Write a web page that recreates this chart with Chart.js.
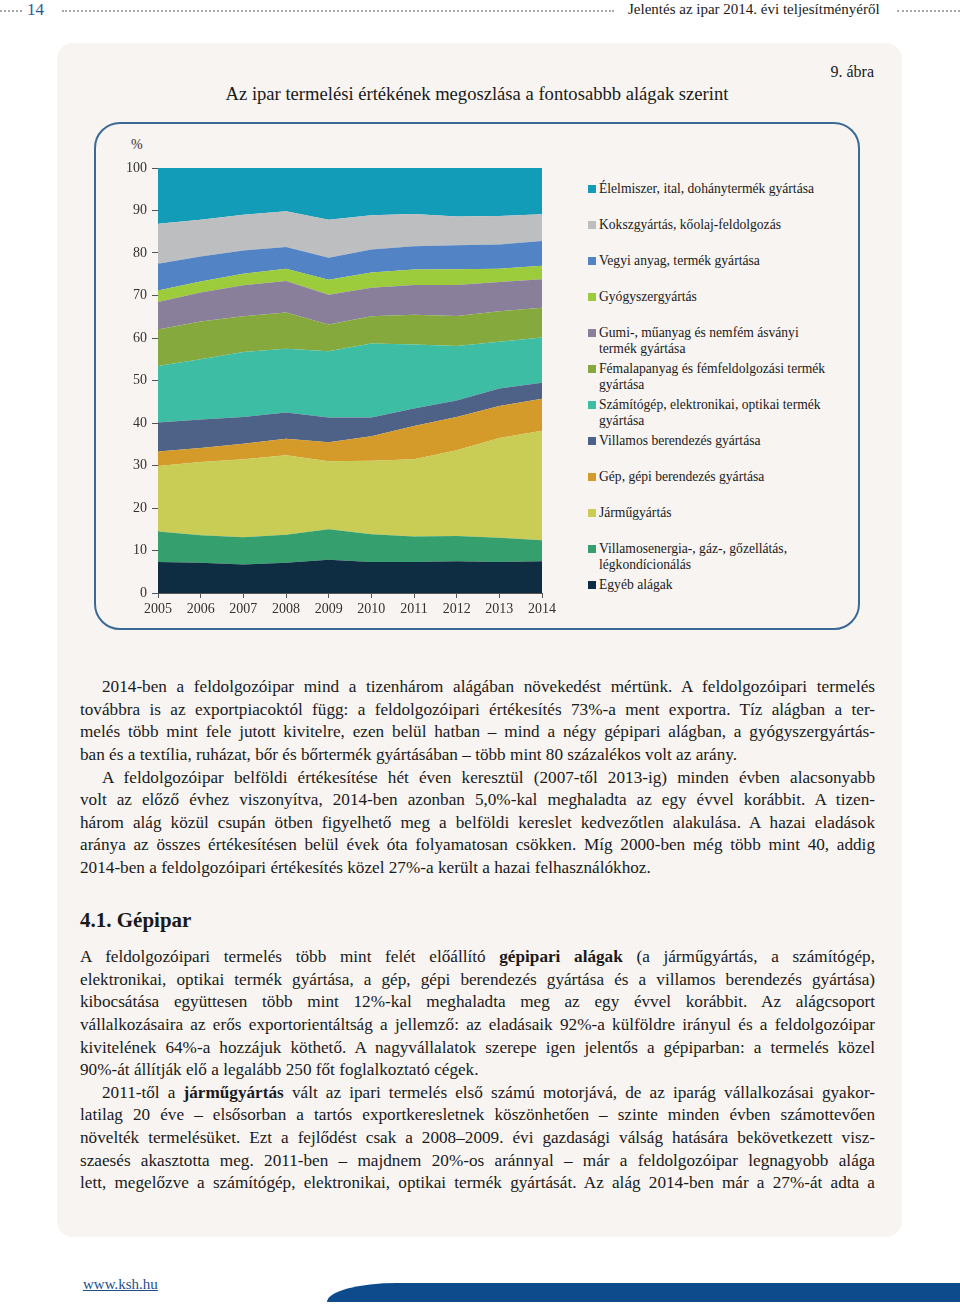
<!DOCTYPE html>
<html lang="hu">
<head>
<meta charset="utf-8">
<script src="https://cdn.jsdelivr.net/npm/chart.js@4.4.1/dist/chart.umd.min.js"></script>
<style>
  body { margin: 0; width: 960px; height: 1308px; background: #fff; position: relative; overflow: hidden;
         font-family: 'Liberation Serif', 'DejaVu Serif', serif; color: #1a1a1a; }
  .abs { position: absolute; }
  .dots { position: absolute; top: 10px; height: 0; border-top: 2px dotted #a8a8a8; }
  #panel { left: 57px; top: 43px; width: 845px; height: 1194px; background: #f7f4f1; border-radius: 16px; }
  #chartbox { left: 94px; top: 122px; width: 762px; height: 504px; border: 2px solid #3b6a94; border-radius: 26px; }
  #legend { left: 588px; top: 181px; width: 260px; }
  .li { position: relative; height: 36px; font-size: 13.6px; line-height: 16px; padding-left: 11px; }
  .li i { position: absolute; left: 0; top: 4px; width: 8px; height: 8px; }
  .txt { position: absolute; left: 80px; width: 795px; font-size: 17.2px; }
  .ln { height: 22.65px; line-height: 22.65px; text-align: justify; text-align-last: justify; white-space: normal; overflow: hidden; }
  .ln.last { text-align-last: left; }
  .ln.ind { padding-left: 22px; }
</style>
</head>
<body>
<div class="dots" style="left:0;width:22px"></div>
<div class="abs" style="left:27px;top:0;font-size:17px;color:#1f5c99;">14</div>
<div class="dots" style="left:62px;width:552px"></div>
<div class="abs" style="left:628px;top:1px;font-size:15px;">Jelentés az ipar 2014. évi teljesítményéről</div>
<div class="dots" style="left:897px;width:63px"></div>

<div id="panel" class="abs"></div>
<div class="abs" style="right:86px;top:63px;font-size:16px;">9. ábra</div>
<div class="abs" style="left:0;width:954px;top:83px;text-align:center;font-size:18.6px;">Az ipar termelési értékének megoszlása a fontosabbb alágak szerint</div>

<div id="chartbox" class="abs"></div>
<div class="abs" style="left:131px;top:137px;font-size:14px;color:#333;">%</div>
<div class="abs" style="left:100px;top:130px;width:460px;height:495px;"><canvas id="c" width="460" height="495"></canvas></div>
<div id="legend" class="abs"></div>

<div class="txt" style="top:676px;">
  <div class="ln ind">2014-ben a feldolgozóipar mind a tizenhárom alágában növekedést mértünk. A feldolgozóipari termelés</div>
  <div class="ln">továbbra is az exportpiacoktól függ: a feldolgozóipari értékesítés 73%-a ment exportra. Tíz alágban a ter-</div>
  <div class="ln">melés több mint fele jutott kivitelre, ezen belül hatban – mind a négy gépipari alágban, a gyógyszergyártás-</div>
  <div class="ln last">ban és a textília, ruházat, bőr és bőrtermék gyártásában – több mint 80 százalékos volt az arány.</div>
  <div class="ln ind">A feldolgozóipar belföldi értékesítése hét éven keresztül (2007-től 2013-ig) minden évben alacsonyabb</div>
  <div class="ln">volt az előző évhez viszonyítva, 2014-ben azonban 5,0%-kal meghaladta az egy évvel korábbit. A tizen-</div>
  <div class="ln">három alág közül csupán ötben figyelhető meg a belföldi kereslet kedvezőtlen alakulása. A hazai eladások</div>
  <div class="ln">aránya az összes értékesítésen belül évek óta folyamatosan csökken. Míg 2000-ben még több mint 40, addig</div>
  <div class="ln last">2014-ben a feldolgozóipari értékesítés közel 27%-a került a hazai felhasználókhoz.</div>
</div>

<div class="abs" style="left:80px;top:908px;font-size:21px;font-weight:bold;">4.1. Gépipar</div>

<div class="txt" style="top:946px;">
  <div class="ln">A feldolgozóipari termelés több mint felét előállító <b>gépipari alágak</b> (a járműgyártás, a számítógép,</div>
  <div class="ln">elektronikai, optikai termék gyártása, a gép, gépi berendezés gyártása és a villamos berendezés gyártása)</div>
  <div class="ln">kibocsátása együttesen több mint 12%-kal meghaladta meg az egy évvel korábbit. Az alágcsoport</div>
  <div class="ln">vállalkozásaira az erős exportorientáltság a jellemző: az eladásaik 92%-a külföldre irányul és a feldolgozóipar</div>
  <div class="ln">kivitelének 64%-a hozzájuk köthető. A nagyvállalatok szerepe igen jelentős a gépiparban: a termelés közel</div>
  <div class="ln last">90%-át állítják elő a legalább 250 főt foglalkoztató cégek.</div>
  <div class="ln ind">2011-től a <b>járműgyártás</b> vált az ipari termelés első számú motorjává, de az iparág vállalkozásai gyakor-</div>
  <div class="ln">latilag 20 éve – elsősorban a tartós exportkeresletnek köszönhetően – szinte minden évben számottevően</div>
  <div class="ln">növelték termelésüket. Ezt a fejlődést csak a 2008–2009. évi gazdasági válság hatására bekövetkezett visz-</div>
  <div class="ln">szaesés akasztotta meg. 2011-ben – majdnem 20%-os aránnyal – már a feldolgozóipar legnagyobb alága</div>
  <div class="ln">lett, megelőzve a számítógép, elektronikai, optikai termék gyártását. Az alág 2014-ben már a 27%-át adta a</div>
</div>

<div class="abs" style="left:83px;top:1276px;font-size:15px;color:#1d4f8a;text-decoration:underline;">www.ksh.hu</div>
<div class="abs" style="left:327px;top:1283px;width:633px;height:19px;background:#0e4b8c;border-top-left-radius:70px 19px;"></div>

<script>
const years = ['2005', '2006', '2007', '2008', '2009', '2010', '2011', '2012', '2013', '2014'];

// shares in %, bottom layer first
const egyeb        = [7.3, 7.1, 6.7, 7.1, 7.8, 7.3, 7.3, 7.5, 7.3, 7.5];
const energia      = [7.2, 6.5, 6.4, 6.6, 7.2, 6.5, 6.0, 5.9, 5.7, 4.9];
const jarmu        = [15.4, 17.2, 18.4, 18.7, 16.0, 17.3, 18.2, 20.2, 23.5, 25.8];
const gep          = [3.4, 3.3, 3.6, 3.9, 4.5, 5.8, 7.8, 7.8, 7.5, 7.5];
const villamos     = [6.8, 6.7, 6.3, 6.2, 5.8, 4.4, 4.1, 3.9, 4.1, 3.8];
const szamitogep   = [13.3, 14.2, 15.3, 15.0, 15.6, 17.4, 15.1, 12.8, 11.0, 10.6];
const femalap      = [8.6, 8.9, 8.4, 8.5, 6.3, 6.4, 7.0, 7.1, 7.2, 7.0];
const gumi         = [6.5, 6.8, 7.3, 7.4, 7.0, 6.7, 7.0, 7.3, 6.9, 6.7];
const gyogyszer    = [2.7, 2.6, 2.7, 2.9, 3.5, 3.6, 3.6, 3.7, 3.1, 3.2];
const vegyi        = [6.3, 5.9, 5.5, 5.1, 5.2, 5.4, 5.5, 5.6, 5.7, 5.8];
const koksz        = [9.4, 8.6, 8.4, 8.4, 8.9, 8.1, 7.6, 6.8, 6.7, 6.3];
const elelmiszer   = [13.1, 12.2, 11.0, 10.2, 12.2, 11.1, 10.8, 11.4, 11.3, 10.9];

const series = [
    { label: ['Egyéb alágak'], data: egyeb, color: '#0f2d42' },
    { label: ['Villamosenergia-, gáz-, gőzellátás,', 'légkondícionálás'], data: energia, color: '#35a06e' },
    { label: ['Járműgyártás'], data: jarmu, color: '#c9cc55' },
    { label: ['Gép, gépi berendezés gyártása'], data: gep, color: '#d49a2a' },
    { label: ['Villamos berendezés gyártása'], data: villamos, color: '#4e6288' },
    { label: ['Számítógép, elektronikai, optikai termék', 'gyártása'], data: szamitogep, color: '#3dbea4' },
    { label: ['Fémalapanyag és fémfeldolgozási termék', 'gyártása'], data: femalap, color: '#86a93e' },
    { label: ['Gumi-, műanyag és nemfém ásványi', 'termék gyártása'], data: gumi, color: '#8a7f9a' },
    { label: ['Gyógyszergyártás'], data: gyogyszer, color: '#9ccb3b' },
    { label: ['Vegyi anyag, termék gyártása'], data: vegyi, color: '#5283c4' },
    { label: ['Kokszgyártás, kőolaj-feldolgozás'], data: koksz, color: '#bcbec0' },
    { label: ['Élelmiszer, ital, dohánytermék gyártása'], data: elelmiszer, color: '#129cb8' }
];

const font = { family: "'Liberation Serif', serif", size: 14 };

new Chart(document.getElementById('c'), {
    type: 'line',
    data: {
        labels: years,
        datasets: series.map((s, i) => ({
            label: s.label.join(' '),
            data: s.data,
            backgroundColor: s.color,
            borderColor: s.color,
            borderWidth: 0,
            pointRadius: 0,
            tension: 0,
            fill: i === 0 ? 'origin' : '-1'
        }))
    },
    options: {
        responsive: false,
        animation: false,
        layout: { padding: { top: 38, right: 18, left: 0, bottom: 0 } },
        plugins: {
            legend: { display: false },
            tooltip: { enabled: false }
        },
        scales: {
            x: {
                grid: { drawOnChartArea: false, tickLength: 5, color: '#555' },
                border: { color: '#555' },
                ticks: { color: '#333', font: font, padding: 3, maxRotation: 0 },
                afterFit: s => { s.height = 32; }
            },
            y: {
                stacked: true,
                min: 0,
                max: 100,
                grid: { drawOnChartArea: false, tickLength: 6, color: '#555' },
                border: { color: '#555' },
                ticks: { stepSize: 10, color: '#333', font: font, padding: 5 },
                afterFit: s => { s.width = 58; }
            }
        }
    }
});

// legend, top layer first
const legend = document.getElementById('legend');
series.slice().reverse().forEach(s => {
    const d = document.createElement('div');
    d.className = 'li';
    d.innerHTML = '<i style="background:' + s.color + '"></i>' + s.label.join('<br>');
    legend.appendChild(d);
});
</script>
</body>
</html>
